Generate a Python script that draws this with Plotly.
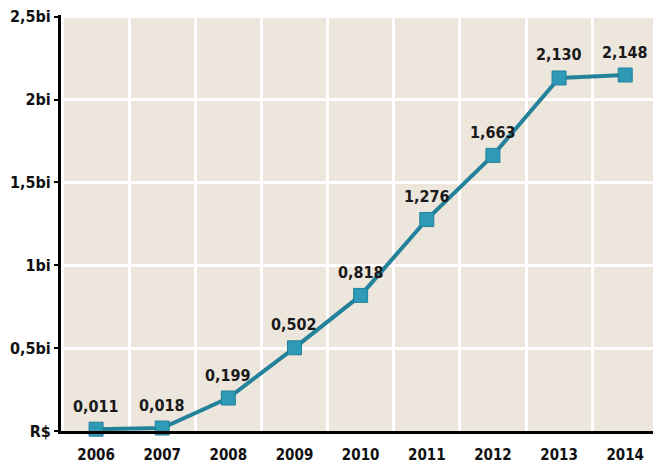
import plotly.graph_objects as go

years = [2006, 2007, 2008, 2009, 2010, 2011, 2012, 2013, 2014]
values = [0.011, 0.018, 0.199, 0.502, 0.818, 1.276, 1.663, 2.130, 2.148]
value_labels = ["0,011", "0,018", "0,199", "0,502", "0,818", "1,276", "1,663", "2,130", "2,148"]
y_tickvals = [0, 0.5, 1, 1.5, 2, 2.5]
y_ticktext = ["R$", "0,5bi", "1bi", "1,5bi", "2bi", "2,5bi"]

FONT = "Liberation Sans Narrow, DejaVu Sans Condensed, Arial Narrow, sans-serif"

fig = go.Figure()
fig.add_trace(go.Scatter(
    x=years, y=values, mode="lines+markers",
    line=dict(color="#23819A", width=4),
    marker=dict(symbol="square", size=14, color="#2E9AB5",
                line=dict(color="#23819A", width=1)),
    hoverinfo="skip", showlegend=False, cliponaxis=False,
))

for x, y, t in zip(years, values, value_labels):
    fig.add_annotation(x=x, y=y, text=t, showarrow=False, yshift=23,
                       font=dict(family=FONT, size=16, color="#1a1a1a", weight="bold"))

fig.update_layout(
    width=653, height=464,
    margin=dict(l=61, r=0, t=15, b=31),
    paper_bgcolor="white",
    plot_bgcolor="#ECE6DD",
    font=dict(family=FONT, size=16, color="#111", weight="bold"),
)
fig.update_xaxes(
    range=[2005.47, 2014.42],
    tickvals=years, ticktext=[str(y) for y in years],
    showgrid=False, zeroline=False,
    showline=True, linecolor="black", linewidth=3,
    ticks="", ticklabelstandoff=8,
    tickfont=dict(family=FONT, size=15, color="#111", weight="bold"),
    minor=dict(tick0=2005.5, dtick=1, showgrid=True, gridcolor="white", gridwidth=3, ticks=""),
)
fig.update_yaxes(
    range=[0, 2.51],
    tickvals=y_tickvals, ticktext=y_ticktext,
    showgrid=True, gridcolor="white", gridwidth=3,
    zeroline=False,
    showline=True, linecolor="black", linewidth=3,
    ticks="outside", ticklen=4, tickwidth=2, tickcolor="black",
    tickfont=dict(family=FONT, size=16, color="#111", weight="bold"),
)

fig.write_html("out.html", config={"displayModeBar": False},
               post_script="document.body.style.margin='0';document.body.style.overflow='hidden';")
